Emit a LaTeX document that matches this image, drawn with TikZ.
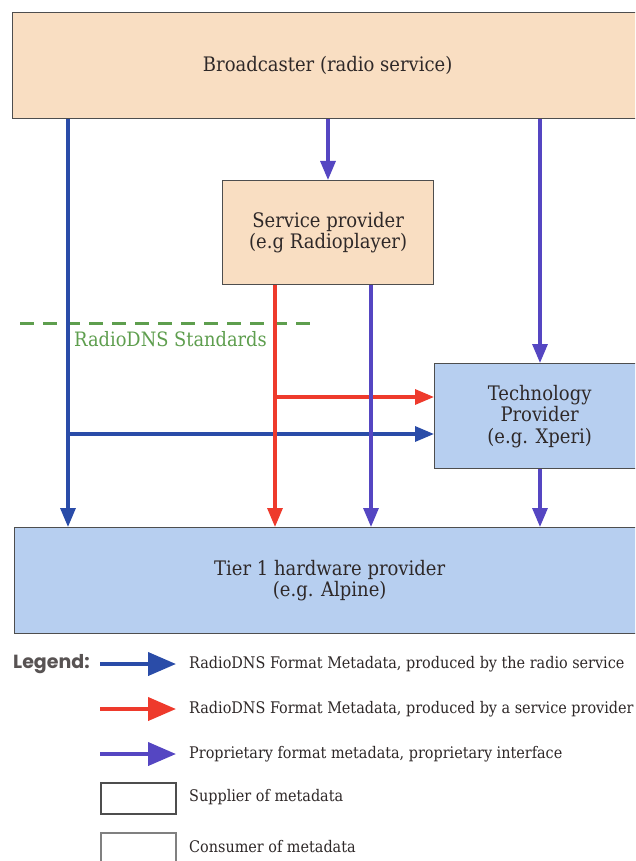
\documentclass[tikz,border=0pt]{standalone}
\usepackage{fontspec}
\setmainfont{DejaVu Serif Condensed}
\newfontfamily\legfont{Poppins}
\usetikzlibrary{arrows.meta}
\definecolor{peach}{HTML}{F9DEC2}
\definecolor{lblue}{HTML}{B7CFF0}
\definecolor{barr}{HTML}{2A4CA8}
\definecolor{rarr}{HTML}{EE3A2C}
\definecolor{parr}{HTML}{5546C2}
\definecolor{gdash}{HTML}{5E9E4E}
\definecolor{txt}{HTML}{2E2828}
\definecolor{bord}{HTML}{4E4E4E}
\tikzset{
  box/.style={draw=bord, line width=1.3pt, anchor=north west, inner sep=0pt, align=center, text=txt, font=\fontsize{20}{21.5}\selectfont},
  supbox/.style={box, fill=peach},
  conbox/.style={box, fill=lblue},
  flow/.style={line width=3.2pt, -{Triangle[width=15pt,length=19pt]}},
  bluearr/.style={flow, draw=barr, fill=barr},
  redarr/.style={flow, draw=rarr, fill=rarr},
  purarr/.style={flow, draw=parr, fill=parr},
  legarr/.style={line width=4pt, -{Triangle[width=23pt,length=28pt]}},
  legtxt/.style={anchor=west, text=txt, font=\fontsize{16}{18}\selectfont, inner sep=0pt},
  legbox/.style={draw=bord, line width=1.5pt, fill=white, minimum width=75pt, anchor=north west, inner sep=0pt}
}
\begin{document}
\begin{tikzpicture}[x=1pt,y=-1pt]
\clip (0,0) rectangle (635,861);
\fill[white] (0,0) rectangle (635,861);
% boxes
\node[supbox, minimum width=630pt, minimum height=106pt] (broadcaster) at (12,12) {Broadcaster (radio service)};
\node[supbox, minimum width=211pt, minimum height=104pt] (service) at (222,180) {Service provider\\(e.g Radioplayer)};
\node[conbox, minimum width=210pt, minimum height=105pt] (tech) at (434,363) {Technology\\Provider\\(e.g. Xperi)};
\node[conbox, minimum width=630pt, minimum height=106pt] (tier) at (14,527) {Tier 1 hardware provider\\(e.g. Alpine)};
% column coordinates
\coordinate (cA) at (68,0);
\coordinate (cB) at (328,0);
\coordinate (cC) at (540,0);
\coordinate (cR) at (275,0);
\coordinate (cP) at (371,0);
\coordinate (rY) at (0,397);
\coordinate (bY) at (0,434);
% RadioDNS standards line
\coordinate (g1) at (20,323);
\coordinate (g2) at (310,323);
\draw[gdash, line width=3pt, dash pattern=on 14pt off 9pt] (g1) -- (g2);
\node[anchor=west, text=gdash, font=\fontsize{19.8}{22}\selectfont, inner sep=0pt] (std) at (74,339) {RadioDNS Standards};
% arrows
\draw[bluearr] (broadcaster.south -| cA) -- (tier.north -| cA);
\draw[bluearr] (cA |- bY) -- (tech.west |- bY);
\draw[purarr] (broadcaster.south -| cB) -- (service.north -| cB);
\draw[purarr] (broadcaster.south -| cC) -- (tech.north -| cC);
\draw[redarr] (service.south -| cR) -- (tier.north -| cR);
\draw[redarr] (cR |- rY) -- (tech.west |- rY);
\draw[purarr] (service.south -| cP) -- (tier.north -| cP);
\draw[purarr] (tech.south -| cC) -- (tier.north -| cC);
% legend
\node[anchor=west, inner sep=0pt, text=txt!80!white, font=\legfont\bfseries\fontsize{19}{21}\selectfont] (legend) at (13,664) {Legend:};
\coordinate (la1) at (100,664); \coordinate (lb1) at (176,664);
\coordinate (la2) at (100,709); \coordinate (lb2) at (176,709);
\coordinate (la3) at (100,754); \coordinate (lb3) at (176,754);
\draw[legarr, draw=barr, fill=barr] (la1) -- (lb1);
\draw[legarr, draw=rarr, fill=rarr] (la2) -- (lb2);
\draw[legarr, draw=parr, fill=parr] (la3) -- (lb3);
\node[legtxt] (t1) at (189,664) {RadioDNS Format Metadata, produced by the radio service};
\node[legtxt] (t2) at (189,709) {RadioDNS Format Metadata, produced by a service provider};
\node[legtxt] (t3) at (189,754) {Proprietary format metadata, proprietary interface};
\node[legbox, minimum height=31pt] (sup) at (100,782) {};
\node[legbox, minimum height=35pt, draw=gray] (con) at (100,832) {};
\node[legtxt] (t4) at (189,797) {Supplier of metadata};
\node[legtxt] (t5) at (189,847) {Consumer of metadata};
\end{tikzpicture}
\end{document}
